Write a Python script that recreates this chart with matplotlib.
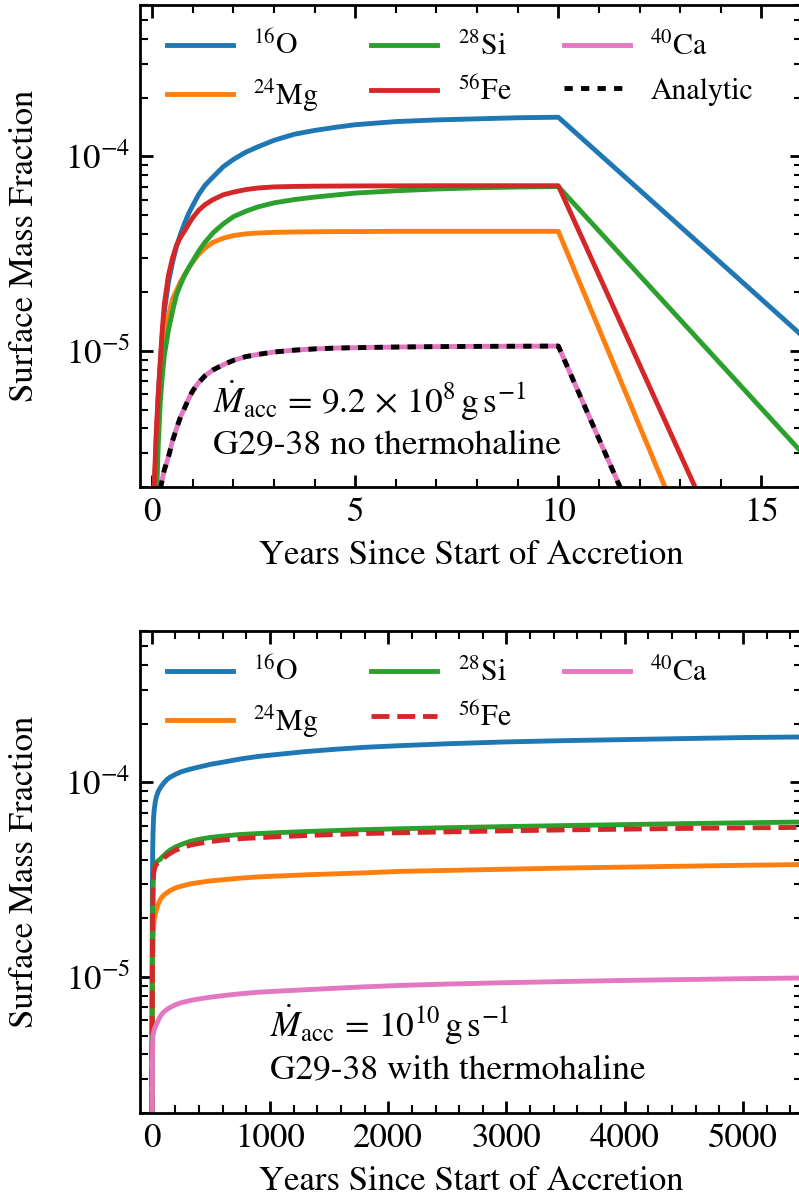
import matplotlib
matplotlib.use("Agg")
import matplotlib.pyplot as plt
from matplotlib.ticker import MultipleLocator, LogLocator, NullFormatter

plt.rcParams['font.family'] = 'STIXGeneral'
plt.rcParams['mathtext.fontset'] = 'stix'

# --- no thermohaline run, Mdot = 9.2e8 g/s, accretion stops at 10 yr ---
t_top = [0.05, 0.1, 0.15, 0.2, 0.25, 0.3, 0.4, 0.5, 0.6, 0.7, 0.8, 0.9, 1.0, 1.15, 1.3, 1.5,
         1.75, 2.0, 2.3, 2.6, 3.0, 3.5, 4.0, 4.5, 5.0, 6.0, 7.0, 8.0, 9.0, 10.0, 16.0]
o16_top = [1.8e-6, 3.5e-6, 6e-6, 8.5e-6, 1.2e-5, 1.6e-5, 2.25e-5, 2.85e-5, 3.45e-5, 4.0e-5, 4.55e-5,
           5.1e-5, 5.6e-5, 6.4e-5, 7.1e-5, 7.85e-5, 8.85e-5, 9.65e-5, 1.05e-4, 1.12e-4, 1.21e-4,
           1.3e-4, 1.36e-4, 1.41e-4, 1.455e-4, 1.51e-4, 1.54e-4, 1.56e-4, 1.58e-4, 1.59e-4, 1.2e-5]
mg24_top = [1.8e-6, 3.5e-6, 5.5e-6, 7.5e-6, 9.5e-6, 1.15e-5, 1.52e-5, 1.85e-5, 2.05e-5, 2.27e-5, 2.47e-5,
            2.67e-5, 2.87e-5, 3.15e-5, 3.38e-5, 3.62e-5, 3.8e-5, 3.92e-5, 4.0e-5, 4.04e-5, 4.07e-5,
            4.09e-5, 4.1e-5, 4.11e-5, 4.11e-5, 4.12e-5, 4.12e-5, 4.12e-5, 4.12e-5, 4.12e-5, 4.1e-8]
si28_top = [8e-7, 1.6e-6, 3.3e-6, 5.5e-6, 7.5e-6, 9.5e-6, 1.28e-5, 1.6e-5, 1.95e-5, 2.2e-5, 2.45e-5,
            2.68e-5, 2.9e-5, 3.27e-5, 3.62e-5, 4.05e-5, 4.5e-5, 4.9e-5, 5.22e-5, 5.5e-5, 5.77e-5,
            6.0e-5, 6.18e-5, 6.33e-5, 6.48e-5, 6.66e-5, 6.8e-5, 6.9e-5, 6.96e-5, 7.0e-5, 3.0e-6]
fe56_top = [2.0e-6, 3.8e-6, 6.0e-6, 9.0e-6, 1.3e-5, 1.75e-5, 2.45e-5, 3.0e-5, 3.5e-5, 3.85e-5, 4.15e-5,
            4.5e-5, 4.85e-5, 5.3e-5, 5.65e-5, 6.0e-5, 6.35e-5, 6.55e-5, 6.75e-5, 6.88e-5, 6.97e-5,
            7.01e-5, 7.03e-5, 7.04e-5, 7.05e-5, 7.06e-5, 7.07e-5, 7.07e-5, 7.07e-5, 7.07e-5, 1.23e-7]
ca40_top = [5e-7, 1.0e-6, 1.5e-6, 1.95e-6, 2.2e-6, 2.45e-6, 2.85e-6, 3.45e-6, 4.0e-6, 4.6e-6, 5.1e-6,
            5.7e-6, 6.25e-6, 6.9e-6, 7.45e-6, 8.0e-6, 8.5e-6, 8.95e-6, 9.35e-6, 9.6e-6, 9.88e-6,
            1.01e-5, 1.025e-5, 1.035e-5, 1.04e-5, 1.048e-5, 1.053e-5, 1.056e-5, 1.058e-5, 1.06e-5, 1.46e-8]
analytic_top = ca40_top

# --- thermohaline run, Mdot = 1e10 g/s ---
t_bot = [0.5, 1, 2, 3, 5, 7, 10, 15, 20, 30, 40, 55, 70, 85, 100, 125, 150, 200, 250, 325, 400,
         500, 600, 750, 900, 1100, 1300, 1550, 1800, 2100, 2500, 3000, 3500, 4000, 4500, 5000, 5600]
o16_bot = [1e-6, 3e-6, 8e-6, 1.4e-5, 3e-5, 4.3e-5, 5.5e-5, 6.6e-5, 7.2e-5, 8.0e-5, 8.5e-5, 9.0e-5,
           9.35e-5, 9.65e-5, 9.9e-5, 1.03e-4, 1.06e-4, 1.1e-4, 1.135e-4, 1.17e-4, 1.2e-4,
           1.24e-4, 1.27e-4, 1.32e-4, 1.36e-4, 1.4e-4, 1.44e-4, 1.48e-4, 1.515e-4, 1.545e-4, 1.58e-4,
           1.615e-4, 1.64e-4, 1.66e-4, 1.68e-4, 1.7e-4, 1.715e-4]
mg24_bot = [8e-7, 1.5e-6, 3e-6, 5e-6, 8e-6, 1.15e-5, 1.5e-5, 1.8e-5, 1.98e-5, 2.12e-5, 2.22e-5, 2.38e-5,
            2.49e-5, 2.57e-5, 2.63e-5, 2.7e-5, 2.77e-5, 2.87e-5, 2.93e-5, 3.01e-5, 3.06e-5,
            3.12e-5, 3.16e-5, 3.22e-5, 3.27e-5, 3.31e-5, 3.35e-5, 3.39e-5, 3.43e-5, 3.49e-5, 3.53e-5,
            3.58e-5, 3.63e-5, 3.67e-5, 3.71e-5, 3.75e-5, 3.79e-5]
si28_bot = [1.5e-6, 2.5e-6, 3.5e-6, 6e-6, 1.2e-5, 2.0e-5, 2.8e-5, 3.45e-5, 3.6e-5, 3.8e-5, 3.9e-5, 3.97e-5,
            4.02e-5, 4.12e-5, 4.2e-5, 4.35e-5, 4.47e-5, 4.66e-5, 4.8e-5, 4.98e-5, 5.1e-5,
            5.22e-5, 5.3e-5, 5.4e-5, 5.46e-5, 5.53e-5, 5.59e-5, 5.66e-5, 5.72e-5, 5.78e-5, 5.85e-5,
            5.93e-5, 6.0e-5, 6.07e-5, 6.14e-5, 6.2e-5, 6.27e-5]
fe56_bot = [1.5e-6, 2.5e-6, 3.5e-6, 6e-6, 1.2e-5, 2.0e-5, 2.8e-5, 3.4e-5, 3.55e-5, 3.72e-5, 3.8e-5, 3.87e-5,
            3.92e-5, 4.0e-5, 4.07e-5, 4.2e-5, 4.3e-5, 4.48e-5, 4.6e-5, 4.76e-5, 4.86e-5,
            4.97e-5, 5.05e-5, 5.14e-5, 5.2e-5, 5.27e-5, 5.33e-5, 5.4e-5, 5.46e-5, 5.51e-5, 5.57e-5,
            5.64e-5, 5.7e-5, 5.75e-5, 5.8e-5, 5.84e-5, 5.88e-5]
ca40_bot = [5e-7, 1e-6, 1.8e-6, 2.5e-6, 3.6e-6, 4.5e-6, 5.0e-6, 5.2e-6, 5.35e-6, 5.55e-6, 5.72e-6, 6.0e-6,
            6.25e-6, 6.45e-6, 6.6e-6, 6.8e-6, 6.95e-6, 7.2e-6, 7.38e-6, 7.57e-6, 7.72e-6,
            7.88e-6, 8.02e-6, 8.2e-6, 8.35e-6, 8.48e-6, 8.6e-6, 8.75e-6, 8.9e-6, 9.05e-6, 9.2e-6,
            9.35e-6, 9.48e-6, 9.6e-6, 9.7e-6, 9.8e-6, 9.9e-6]

labels = [r'$^{16}$O', r'$^{24}$Mg', r'$^{28}$Si', r'$^{56}$Fe', r'$^{40}$Ca']
colors = ['#1f77b4', '#ff7f0e', '#2ca02c', '#d62728', '#e377c2']
LW = 3.5
FS = 25


def style_axes(ax, major, minor):
    ax.set_yscale('log')
    ax.set_ylim(2e-6, 6e-4)
    ax.xaxis.set_major_locator(MultipleLocator(major))
    ax.xaxis.set_minor_locator(MultipleLocator(minor))
    ax.yaxis.set_major_locator(LogLocator(base=10))
    ax.yaxis.set_minor_locator(LogLocator(base=10, subs=range(2, 10)))
    ax.yaxis.set_minor_formatter(NullFormatter())
    ax.tick_params(which='both', direction='in', top=True, right=True, labelsize=FS)
    ax.tick_params(which='major', length=9, width=2, pad=7)
    ax.tick_params(which='minor', length=5.5, width=1.5)
    for s in ax.spines.values():
        s.set_linewidth(2)
    ax.set_xlabel('Years Since Start of Accretion', fontsize=FS)
    ax.set_ylabel('Surface Mass Fraction', fontsize=FS)
    ax.yaxis.set_label_coords(-0.15, 0.5)
    ax.xaxis.set_label_coords(0.5, -0.11)
    ax.legend(loc='upper left', ncol=3, frameon=False, fontsize=21.5, handlelength=2.2,
              handletextpad=0.7, columnspacing=1.75, labelspacing=0.52)


fig = plt.figure(figsize=(7.99, 12.03), dpi=100)
ax1 = fig.add_axes([140 / 799, 716 / 1203, 662 / 799, 482 / 1203])
ax2 = fig.add_axes([140 / 799, 90 / 1203, 662 / 799, 482 / 1203])

# top panel
for y, lab, c in zip([o16_top, mg24_top, si28_top, fe56_top, ca40_top], labels, colors):
    ax1.plot(t_top, y, color=c, lw=LW, label=lab)
ax1.plot(t_top, analytic_top, color='k', lw=LW, dashes=(1.7, 1.7), label='Analytic')
ax1.set_xlim(-0.3, 16)
style_axes(ax1, 5, 1)
ax1.text(0.11, 0.1535, r'$\dot{M}_{\rm acc}\, =\, 9.2\, \times\, 10^8\,{\rm g\,s^{-1}}$',
         transform=ax1.transAxes, fontsize=25.5, va='baseline')
ax1.text(0.11, 0.0685, 'G29-38 no thermohaline', transform=ax1.transAxes, fontsize=25.5, va='baseline')

# bottom panel
styles = ['-', '-', '-', '--', '-']
for y, lab, c, ls in zip([o16_bot, mg24_bot, si28_bot, fe56_bot, ca40_bot], labels, colors, styles):
    ax2.plot(t_bot, y, color=c, lw=LW, ls=ls, label=lab)
ax2.set_xlim(-100, 5500)
style_axes(ax2, 1000, 200)
ax2.text(0.196, 0.158, r'$\dot{M}_{\rm acc}\, =\, 10^{10}\,{\rm g\,s^{-1}}$',
         transform=ax2.transAxes, fontsize=25.5, va='baseline')
ax2.text(0.196, 0.0726, 'G29-38 with thermohaline', transform=ax2.transAxes, fontsize=25.5, va='baseline')

fig.savefig('out.png', dpi=100)
